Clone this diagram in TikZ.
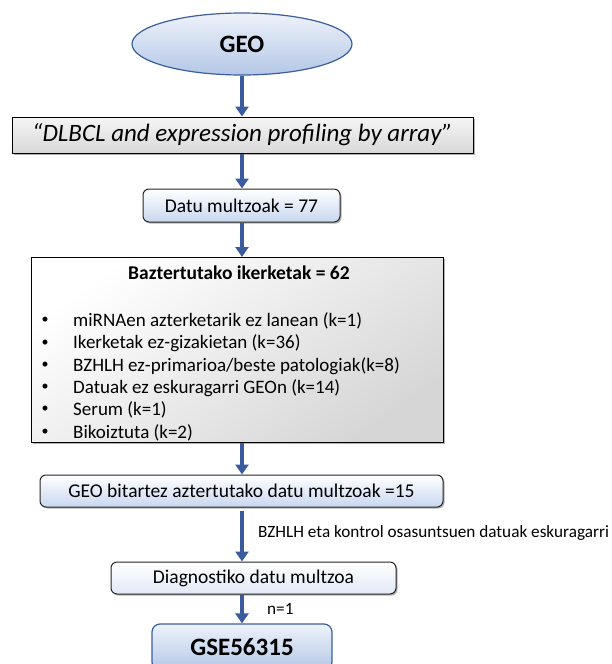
\documentclass[tikz,border=0pt]{standalone}
\usepackage{fontspec}
\setmainfont{Carlito}
\usetikzlibrary{shapes.geometric,arrows.meta,shadows}

\definecolor{flowblue}{HTML}{3A5C9E}
\definecolor{ovalline}{HTML}{3B5E9C}
\definecolor{lightblue}{HTML}{B4C7E7}
\definecolor{paleblue}{HTML}{EEF2FA}
\definecolor{stepblue}{HTML}{C8D7EF}

\tikzset{
  txt/.style={font=\fontsize{19.5}{22}\selectfont},
  flow/.style={draw=flowblue, line width=4pt, -{Triangle[width=13pt,length=10pt]}},
  softshadow/.style={drop shadow={shadow xshift=1.5pt, shadow yshift=-1.5pt, fill=black!60, opacity=.5}},
  oval/.style={ellipse, draw=ovalline, line width=1.2pt, top color=paleblue, bottom color=lightblue,
    minimum width=220pt, minimum height=62pt, inner sep=0pt, font=\bfseries\fontsize{25}{27}\selectfont},
  querybox/.style={rectangle, draw=black, line width=1pt, top color=black!4, bottom color=black!15,
    softshadow, minimum width=461pt, minimum height=36pt, inner sep=0pt,
    font=\itshape\fontsize{25}{27}\selectfont},
  stepbox/.style={rectangle, rounded corners=6pt, draw=black!85, line width=1pt,
    top color=white, bottom color=stepblue, softshadow, inner sep=0pt, txt},
  bigbox/.style={rectangle, draw=black, line width=1pt, top color=white, bottom color=black!16,
    shading angle=35, softshadow, minimum width=412pt, minimum height=185pt, inner sep=0pt},
  resultbox/.style={rectangle, rounded corners=8pt, draw=ovalline, line width=1.2pt,
    top color=paleblue, bottom color=lightblue, minimum width=180pt, minimum height=46pt,
    inner sep=0pt, font=\bfseries\fontsize{25}{27}\selectfont},
  listitem/.style={anchor=base west, inner sep=0pt, font=\fontsize{19}{21}\selectfont},
  listbullet/.style={anchor=center, inner sep=0pt, font=\fontsize{14}{16}\selectfont},
  note/.style={anchor=west, inner sep=0pt, font=\fontsize{17.2}{19}\selectfont},
}

\begin{document}
\begin{tikzpicture}[x=1pt, y=-1pt]
  \clip (0,0) rectangle (611,664);
  \fill[white] (0,0) rectangle (611,664);

  % vertical axis of the flow
  \coordinate (axis) at (242,0);

  % source
  \node[oval] (geo) at (242,44) {GEO};

  % search query
  \node[querybox] (query) at (242.5,135) {“DLBCL and expression profiling by array”};

  % retrieved data sets
  \node[stepbox, minimum width=197pt, minimum height=33pt] (datu) at (241.5,205.5) {Datu multzoak = 77};

  % excluded studies
  \node[bigbox] (excl) at (237,350) {};
  \node[anchor=west, inner sep=0pt, font=\bfseries\fontsize{19.5}{22}\selectfont] (excltitle) at (128,273) {Baztertutako ikerketak = 62};
  \foreach \t [count=\i] in {
      {miRNAen azterketarik ez lanean (k=1)},
      {Ikerketak ez-gizakietan (k=36)},
      {BZHLH ez-primarioa/beste patologiak(k=8)},
      {Datuak ez eskuragarri GEOn (k=14)},
      {Serum (k=1)},
      {Bikoiztuta (k=2)}}{
    \node[listbullet] (bullet\i) at (45,{320.5+22.3*(\i-1)}) {•};
    \node[listitem] (item\i) at (73,{326.5+22.3*(\i-1)}) {\t};
  }

  % analysed data sets
  \node[stepbox, minimum width=403pt, minimum height=32pt] (bitartez) at (241.5,491) {GEO bitartez aztertutako datu multzoak =15};

  % diagnostic data set
  \node[stepbox, bottom color=stepblue!55, minimum width=285pt, minimum height=32pt] (diag) at (253.5,578) {Diagnostiko datu multzoa};

  % selected series
  \node[resultbox] (gse) at (242,647) {GSE56315};

  % connectors
  \draw[flow] (geo.south -| axis) -- (query.north -| axis);
  \draw[flow] (query.south -| axis) -- (datu.north -| axis);
  \draw[flow] (datu.south -| axis) -- (excl.north -| axis);
  \draw[flow] (excl.south -| axis) -- (bitartez.north -| axis);
  \draw[flow, shorten <=3pt] (bitartez.south -| axis) -- (diag.north -| axis);
  \draw[flow] (diag.south -| axis) -- (gse.north -| axis);

  % connector labels
  \node[note] (availlabel) at (258,533) {BZHLH eta kontrol osasuntsuen datuak eskuragarri};
  \node[note] (nlabel) at (267,609) {n=1};
\end{tikzpicture}
\end{document}
